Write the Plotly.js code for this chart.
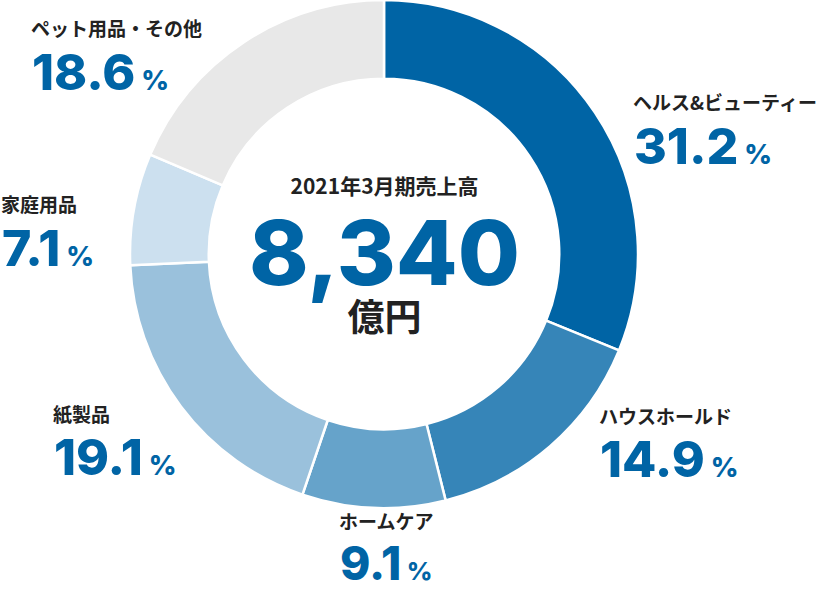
<!DOCTYPE html>
<html>
<head>
<meta charset="utf-8">
<script src="https://cdn.plot.ly/plotly-3.0.1.min.js"></script>
<style>
  html, body { margin: 0; padding: 0; background: #fff; }
  #chart { width: 831px; height: 592px; }
</style>
</head>
<body>
<div id="chart"></div>
<script>
// segment data, clockwise from 12 o'clock
const segments = ['ヘルス&ビューティー', 'ハウスホールド', 'ホームケア', '紙製品', '家庭用品', 'ペット用品・その他'];
const shares = [31.2, 14.9, 9.1, 19.1, 7.1, 18.6];
const sliceColors = ['#0064a5', '#3685b8', '#66a3ca', '#9ac1dc', '#cce0ef', '#e8e8e8'];

const totalLabel = '2021年3月期売上高';
const totalValue = 8340;
const totalUnit = '億円';

const W = 831, H = 592;
const cx = 384, cy = 254, R = 254;

// label anchor (left edge, y of the name line, y of the number, number size) per segment, in pixels
const labelPos = [
  [632, 102, 146, 50],
  [598, 415, 459, 50],
  [338, 520, 563, 46],
  [52, 413, 457, 50],
  [0, 204, 248, 50],
  [30, 28, 72, 50]
];

const jp = '"Noto Sans CJK JP", "Noto Sans", sans-serif';
const num = 'Inter, "Open Sans", sans-serif';
const blue = '#0064a5';

const px = (x) => x / W;
const py = (y) => 1 - y / H;

const annotations = [];
segments.forEach((s, i) => {
  const [lx, ly, ny, ns] = labelPos[i];
  annotations.push({
    text: s, xref: 'paper', yref: 'paper', x: px(lx), y: py(ly),
    xanchor: 'left', yanchor: 'middle', showarrow: false, borderpad: 0,
    font: { family: jp, size: 19, color: '#222', weight: 700 }
  });
  annotations.push({
    text: shares[i].toFixed(1) + '<span style="font-size:' + Math.round(ns * 0.54) + 'px"> %</span>',
    xref: 'paper', yref: 'paper', x: px(lx + 1), y: py(ny),
    xanchor: 'left', yanchor: 'middle', showarrow: false, borderpad: 0,
    font: { family: num, size: ns, color: blue, weight: 800 }
  });
});

// centre block as one text: label, (spacer), total, unit
annotations.push({
  text: '<span style="font-size:21px">' + totalLabel + '</span><br>&nbsp;<br>' +
        '<span style="font-family:Inter;font-size:90px;font-weight:800;fill:' + blue + '">' +
        totalValue.toLocaleString('en-US') + '</span><br>' +
        '<span style="font-size:37px">' + totalUnit + '</span>',
  xref: 'paper', yref: 'paper', x: px(cx), y: py(256),
  xanchor: 'center', yanchor: 'middle', align: 'center', showarrow: false, borderpad: 0,
  font: { family: jp, size: 35, color: '#222', weight: 700 }
});

const data = [{
  type: 'pie',
  labels: segments,
  values: shares,
  sort: false,
  direction: 'clockwise',
  rotation: 0,
  hole: 0.69,
  textinfo: 'none',
  hoverinfo: 'none',
  marker: { colors: sliceColors, line: { color: '#ffffff', width: 2.5 } },
  domain: { x: [px(cx - R), px(cx + R)], y: [py(cy + R), py(cy - R)] }
}];

const layout = {
  width: W, height: H,
  margin: { l: 0, r: 0, t: 0, b: 0 },
  showlegend: false,
  paper_bgcolor: '#ffffff',
  annotations: annotations
};

Plotly.newPlot('chart', data, layout, { staticPlot: true, displayModeBar: false });
</script>
</body>
</html>
